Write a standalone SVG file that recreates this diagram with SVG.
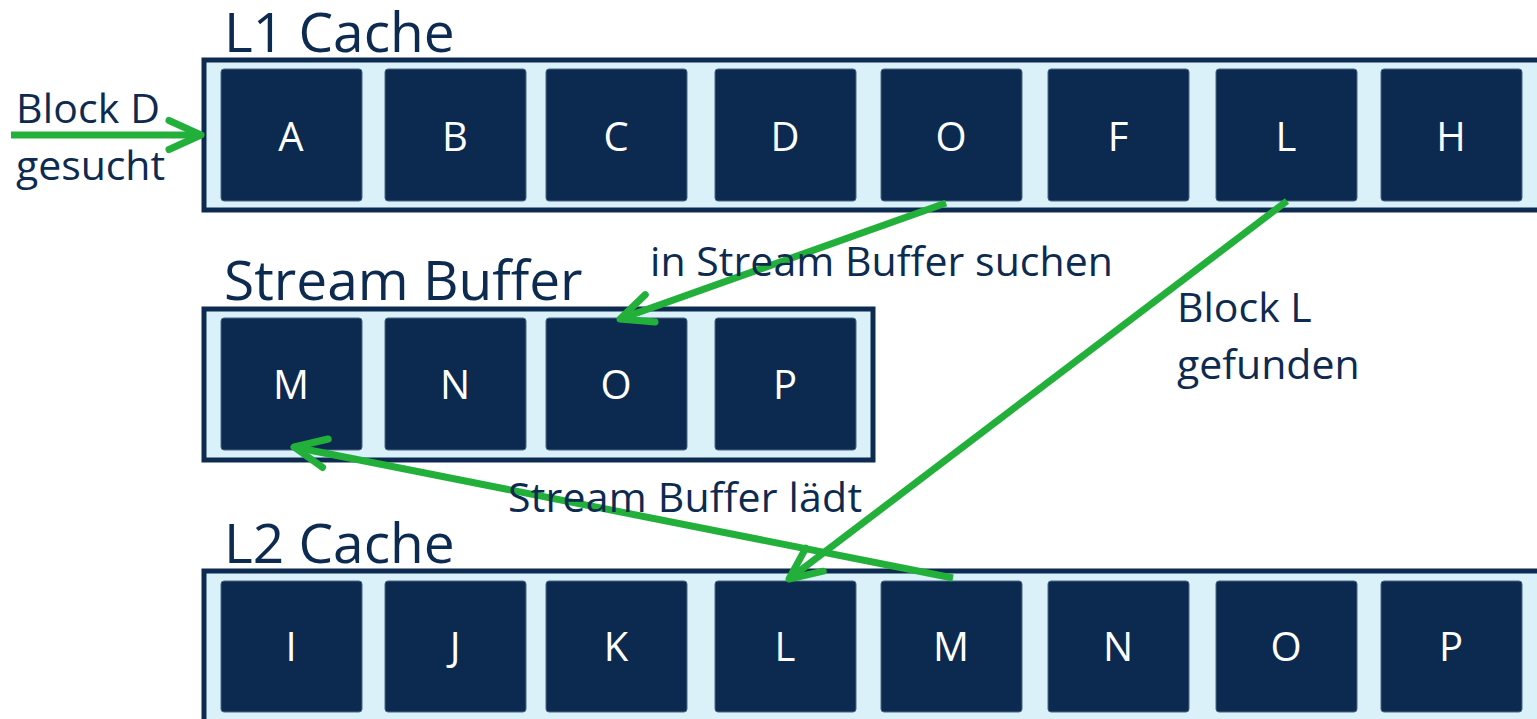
<svg xmlns="http://www.w3.org/2000/svg" width="1537" height="719" viewBox="0 0 1537 719">
<style>
.box{fill:#daf1fa;stroke:#0d2a50;stroke-width:5}
.cell{fill:#0c2a50;stroke:#4a6788;stroke-width:1}
.ct{font-family:"Open Sans","Liberation Sans",sans-serif;font-size:40px;fill:#ffffff;text-anchor:middle}
.title{font-family:"Open Sans","Liberation Sans",sans-serif;font-size:55px;fill:#0d2a50}
.lbl{font-family:"Open Sans","Liberation Sans",sans-serif;font-size:41px;fill:#0d2a50}
.arr{stroke:#22b03a;stroke-width:7;fill:none;marker-end:url(#chev)}
</style>
<defs>
<marker id="chev" markerUnits="userSpaceOnUse" viewBox="-40 -25 50 50" markerWidth="50" markerHeight="50" refX="0" refY="0" orient="auto" overflow="visible">
<path d="M-32,-14.5 L0,0 L-32,14.5" fill="none" stroke="#22b03a" stroke-width="7" stroke-linecap="round" stroke-linejoin="round"/>
</marker>
</defs>
<rect width="1537" height="719" fill="#ffffff"/>
<g id="l1cache">
<rect class="box" x="204" y="60" width="1345" height="150"/>
<text class="title" x="224" y="52">L1 Cache</text>
<g id="l1-A"><rect class="cell" x="221" y="69" width="141" height="132" rx="3"/><text class="ct" x="291" y="151">A</text></g>
<g id="l1-B"><rect class="cell" x="385" y="69" width="141" height="132" rx="3"/><text class="ct" x="455" y="151">B</text></g>
<g id="l1-C"><rect class="cell" x="546" y="69" width="141" height="132" rx="3"/><text class="ct" x="616" y="151">C</text></g>
<g id="l1-D"><rect class="cell" x="715" y="69" width="141" height="132" rx="3"/><text class="ct" x="785" y="151">D</text></g>
<g id="l1-O"><rect class="cell" x="881" y="69" width="141" height="132" rx="3"/><text class="ct" x="951" y="151">O</text></g>
<g id="l1-F"><rect class="cell" x="1048" y="69" width="141" height="132" rx="3"/><text class="ct" x="1118" y="151">F</text></g>
<g id="l1-L"><rect class="cell" x="1216" y="69" width="141" height="132" rx="3"/><text class="ct" x="1286" y="151">L</text></g>
<g id="l1-H"><rect class="cell" x="1381" y="69" width="141" height="132" rx="3"/><text class="ct" x="1451" y="151">H</text></g>
</g>
<g id="streambuffer">
<rect class="box" x="204" y="309" width="669" height="151"/>
<text class="title" x="224" y="300">Stream Buffer</text>
<g id="sb-M"><rect class="cell" x="221" y="318" width="141" height="132" rx="3"/><text class="ct" x="291" y="399">M</text></g>
<g id="sb-N"><rect class="cell" x="385" y="318" width="141" height="132" rx="3"/><text class="ct" x="455" y="399">N</text></g>
<g id="sb-O"><rect class="cell" x="546" y="318" width="141" height="132" rx="3"/><text class="ct" x="616" y="399">O</text></g>
<g id="sb-P"><rect class="cell" x="715" y="318" width="141" height="132" rx="3"/><text class="ct" x="785" y="399">P</text></g>
</g>
<g id="l2cache">
<rect class="box" x="204" y="571" width="1345" height="155"/>
<text class="title" x="224" y="563">L2 Cache</text>
<g id="l2-I"><rect class="cell" x="221" y="581" width="141" height="131" rx="3"/><text class="ct" x="291" y="661">I</text></g>
<g id="l2-J"><rect class="cell" x="385" y="581" width="141" height="131" rx="3"/><text class="ct" x="455" y="661">J</text></g>
<g id="l2-K"><rect class="cell" x="546" y="581" width="141" height="131" rx="3"/><text class="ct" x="616" y="661">K</text></g>
<g id="l2-L"><rect class="cell" x="715" y="581" width="141" height="131" rx="3"/><text class="ct" x="785" y="661">L</text></g>
<g id="l2-M"><rect class="cell" x="881" y="581" width="141" height="131" rx="3"/><text class="ct" x="951" y="661">M</text></g>
<g id="l2-N"><rect class="cell" x="1048" y="581" width="141" height="131" rx="3"/><text class="ct" x="1118" y="661">N</text></g>
<g id="l2-O"><rect class="cell" x="1216" y="581" width="141" height="131" rx="3"/><text class="ct" x="1286" y="661">O</text></g>
<g id="l2-P"><rect class="cell" x="1381" y="581" width="141" height="131" rx="3"/><text class="ct" x="1451" y="661">P</text></g>
</g>
<g id="connectors">
<line class="arr" x1="11" y1="135" x2="201" y2="135"/>
<line class="arr" x1="946" y1="203" x2="620" y2="319"/>
<line class="arr" x1="1287" y1="201" x2="789" y2="579"/>
<line class="arr" x1="953" y1="578" x2="294" y2="447"/>
</g>
<g id="labels">
<text class="lbl" x="16" y="123" font-size="38" textLength="144">Block D</text>
<text class="lbl" x="16" y="180" font-size="38" textLength="149">gesucht</text>
<text class="lbl" x="650" y="276" textLength="463">in Stream Buffer suchen</text>
<text class="lbl" x="1177" y="322">Block L</text>
<text class="lbl" x="1177" y="379">gefunden</text>
<text class="lbl" x="508" y="512" textLength="354">Stream Buffer lädt</text>
</g>
</svg>
